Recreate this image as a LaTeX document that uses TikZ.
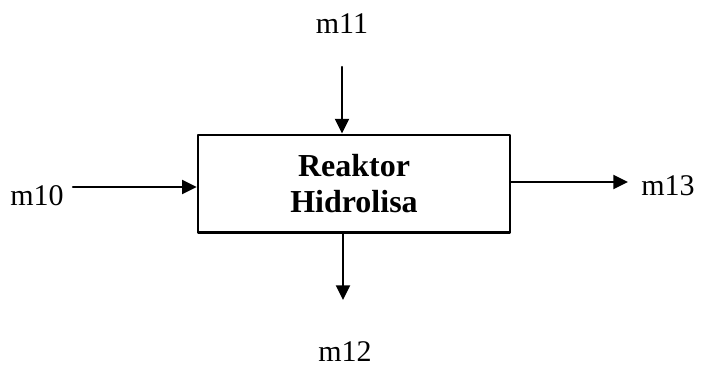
\documentclass[tikz,border=0pt]{standalone}
\usepackage{fontspec}
\setmainfont{Liberation Serif}
\usetikzlibrary{arrows.meta}
\begin{document}
\begin{tikzpicture}[x=0.75pt, y=-0.75pt, line cap=round, line join=round,
    flow/.style={line width=1.6pt, -{Triangle[length=11pt,width=10.5pt]}},
    stream/.style={font=\fontsize{22.5}{26}\selectfont, anchor=base, inner sep=0pt}]
  \useasboundingbox (0,0) rectangle (701,368);

  \node[draw, line width=2pt, minimum width=234pt, minimum height=73pt,
        font=\fontsize{24}{26.5}\selectfont\bfseries, align=center]
    (reaktor) at (354,183.5) {Reaktor\\Hidrolisa};

  \node[stream] (m10) at (37,205) {m10};
  \node[stream] (m11) at (342,33) {m11};
  \node[stream] (m12) at (345,361) {m12};
  \node[stream] (m13) at (668,195) {m13};

  \coordinate (a10) at (73,187);
  \coordinate (a11) at (342,67);
  \coordinate (a12) at (343,300);
  \coordinate (a13) at (628,182);

  \draw[flow] (a10) -- (a10 -| reaktor.west);
  \draw[flow] (a11) -- (a11 |- reaktor.north);
  \draw[flow] (a12 |- reaktor.south) -- (a12);
  \draw[flow] (a13 -| reaktor.east) -- (a13);
\end{tikzpicture}
\end{document}
